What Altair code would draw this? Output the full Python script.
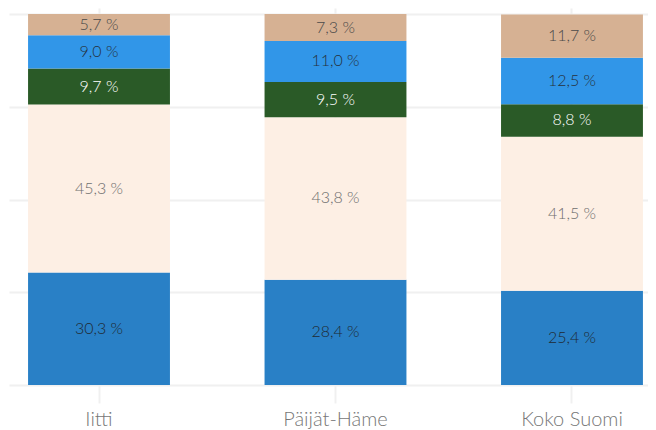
import altair as alt
import pandas as pd

categories = ["Iitti", "Päijät-Häme", "Koko Suomi"]
segments = ["Ryhmä 1", "Ryhmä 2", "Ryhmä 3", "Ryhmä 4", "Ryhmä 5"]
iitti = [30.3, 45.3, 9.7, 9.0, 5.7]
paijat_hame = [28.4, 43.8, 9.5, 11.0, 7.3]
koko_suomi = [25.4, 41.5, 8.8, 12.5, 11.7]

bar_colors = ["#2980C6", "#FDEFE4", "#2A5A27", "#3196E8", "#D6B193"]
text_colors = ["#1f2a33", "#6e6e6e", "#ffffff", "#26323d", "#4a4a4a"]

rows = []
for cat, vals in zip(categories, [iitti, paijat_hame, koko_suomi]):
    for i, (seg, v) in enumerate(zip(segments, vals)):
        rows.append({"alue": cat, "ryhma": seg, "jarjestys": i, "arvo": v})
df = pd.DataFrame(rows)

FONT = "Lato"

base = alt.Chart(df).transform_stack(
    stack="arvo", groupby=["alue"], as_=["y0", "y1"],
    sort=[alt.SortField("jarjestys", order="ascending")]
).transform_calculate(
    mid="(datum.y0 + datum.y1) / 2",
    label="replace(format(datum.arvo, '.1f'), '.', ',') + ' %'"
)

x_scale = alt.Scale(paddingInner=0.4, paddingOuter=0.051, align=0.79)

x_enc = alt.X(
    "alue:N", sort=categories, title=None, scale=x_scale,
    axis=alt.Axis(
        domain=False, grid=True, gridColor="#f0f0f0", gridWidth=2,
        ticks=True, tickColor="#f0f0f0", tickWidth=2, tickSize=18,
        labelAngle=0, labelFont=FONT, labelFontSize=20, labelColor="#777777",
        labelPadding=6, labelFontWeight=300,
    ),
)

y_scale = alt.Scale(domain=[0, 101.62], nice=False, zero=True)

bars = base.mark_bar().encode(
    x=x_enc,
    y=alt.Y("y0:Q", scale=y_scale, title=None,
            axis=alt.Axis(values=[0, 25, 50, 75, 100], grid=True, gridColor="#f0f0f0",
                          gridWidth=2, domain=False, ticks=False, labels=False)),
    y2="y1:Q",
    color=alt.Color("ryhma:N", scale=alt.Scale(domain=segments, range=bar_colors), legend=None),
)

texts = base.mark_text(font=FONT, fontSize=16, fontWeight=300).encode(
    x=alt.X("alue:N", sort=categories, scale=x_scale),
    y=alt.Y("mid:Q", scale=y_scale),
    text="label:N",
    color=alt.Color("ryhma:N", scale=alt.Scale(domain=segments, range=text_colors), legend=None),
)

chart = alt.layer(bars, texts).resolve_scale(color="independent").properties(
    width=639, height=377,
    autosize=alt.AutoSizeParams(type="none"),
    padding={"left": 1, "top": 0, "right": 0, "bottom": 45},
).configure_view(stroke=None)

chart.save("out.html", embed_options={"renderer": "svg", "actions": False})
